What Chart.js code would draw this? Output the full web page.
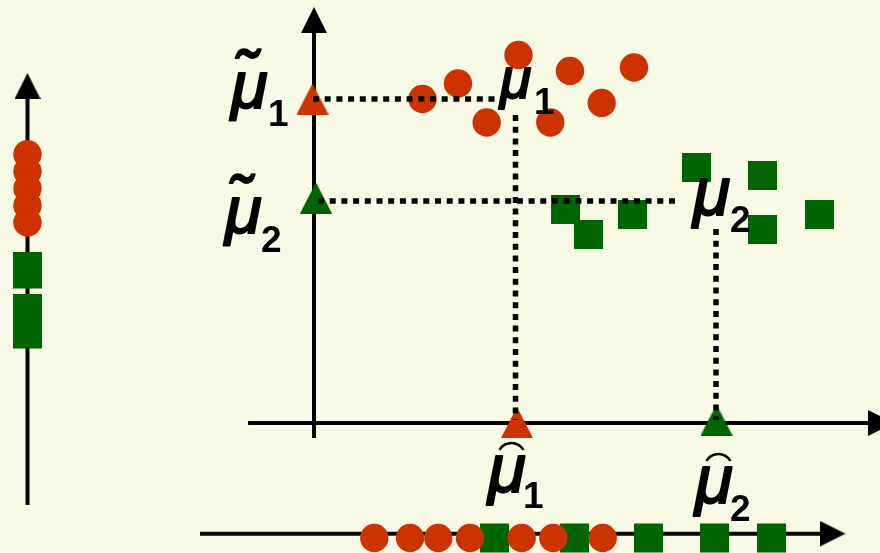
<!DOCTYPE html>
<html><head><meta charset="utf-8">
<script src="https://cdn.jsdelivr.net/npm/chart.js@4/dist/chart.umd.min.js"></script>
<style>
html,body{margin:0;padding:0;background:#F9FAE6;}
#wrap{width:880px;height:553px;position:relative;}
</style>
</head><body><div id="wrap"><canvas id="c"></canvas></div>
<script>
// ---- data (diagram units, origin at the main axes' crossing) ----
const class1X = [10.85, 14.4, 20.45, 17.27, 23.63, 25.6, 28.77, 32.0];
const class1Y = [32.4, 33.95, 36.8, 30.05, 30.05, 35.2, 32.0, 35.55];
const class2X = [38.25, 44.85, 25.15, 31.85, 27.45, 44.85, 50.55];
const class2Y = [25.55, 24.75, 21.35, 20.85, 18.85, 19.35, 20.85];
const leftClass1Y = [26.88, 25.17, 23.46, 21.76, 20.05];
const leftClass2Y = [15.65, 14.9, 11.45, 8.9];
const bottomClass1X = [6.03, 9.6, 12.43, 15.6, 20.77, 23.93, 28.87];
const bottomClass2X = [18.05, 26.05, 33.45, 40.05, 45.75];
const meanTildeY = [32.4, 22.5];   // μ̃1, μ̃2 on the vertical axis
const meanHatX = [20.3, 40.25];    // μ̂1, μ̂2 on the horizontal axis
const meanX = [20.15, 40.2];       // vertical guide positions
const meanY = [32.4, 22.2];        // horizontal guide positions
const guideEndX = [18.8, 36.3];
const guideTopY = [30.8, 19.4];
const leftAxisX = -28.65;
const bottomAxisY = -11.07;
const bottomPointsY = -11.5;

const RED = '#CC3300', GREEN = '#006400';

function tri(color, w, h) {
  const c = document.createElement('canvas'); c.width = w; c.height = h;
  const g = c.getContext('2d'); g.fillStyle = color;
  g.beginPath(); g.moveTo(w / 2, 0); g.lineTo(w, h); g.lineTo(0, h); g.closePath(); g.fill();
  return c;
}
const triRed = tri(RED, 32, 31), triGreen = tri(GREEN, 32, 31), arrowHead = tri('#000', 26, 26);

const pts = (xs, ys) => xs.map((x, i) => ({x, y: ys[i]}));
const constY = (xs, y) => xs.map(x => ({x, y}));
const constX = (ys, x) => ys.map(y => ({x, y}));

function line(data, opts) {
  return Object.assign({type: 'scatter', data, showLine: true, borderColor: '#000', borderWidth: 4,
    pointRadius: 0, fill: false, tension: 0, clip: false}, opts || {});
}
function marks(data, color, style, radius, opts) {
  return Object.assign({type: 'scatter', data, showLine: false, pointStyle: style, pointRadius: radius,
    pointBackgroundColor: color, pointBorderWidth: 0, clip: false}, opts || {});
}
const dotted = {borderWidth: 5.5, borderDash: [6, 5.7], borderCapStyle: 'butt', order: 0};

const datasets = [
  // axes
  line([{x: -6.6, y: 0}, {x: 55.6, y: 0}], {order: 5}),
  line([{x: 0, y: -1.5}, {x: 0, y: 39.3}], {order: 5}),
  line([{x: leftAxisX, y: -8.2}, {x: leftAxisX, y: 32.6}], {order: 5}),
  line([{x: -11.4, y: bottomAxisY}, {x: 50.8, y: bottomAxisY}], {order: 5}),
  marks([{x: 56.7, y: 0}], '#000', arrowHead, 13, {rotation: 90, order: 5}),
  marks([{x: 0, y: 40.3}], '#000', arrowHead, 13, {order: 5}),
  marks([{x: leftAxisX, y: 33.7}], '#000', arrowHead, 13, {order: 5}),
  marks([{x: 51.85, y: bottomAxisY}], '#000', arrowHead, 13, {rotation: 90, order: 5}),
  // class points
  marks(pts(class1X, class1Y), RED, 'circle', 14.2, {order: 3}),
  marks(pts(class2X, class2Y), GREEN, 'rect', 20.5, {order: 3}),
  marks(constX(leftClass1Y, leftAxisX), RED, 'circle', 14.2, {order: 3}),
  marks(constX(leftClass2Y, leftAxisX), GREEN, 'rect', 20.5, {order: 3}),
  marks(constY(bottomClass1X, bottomPointsY), RED, 'circle', 14.2, {order: 3}),
  marks(constY(bottomClass2X, bottomPointsY), GREEN, 'rect', 20.5, {order: 3}),
  // projected means
  marks([{x: -0.15, y: meanTildeY[0]}], RED, triRed, 16, {order: 2}),
  marks([{x: 0.2, y: meanTildeY[1]}], GREEN, triGreen, 16, {order: 2}),
  marks([{x: meanHatX[0], y: 0.05}], RED, triRed, 16, {order: 2}),
  marks([{x: meanHatX[1], y: 0.3}], GREEN, triGreen, 16, {order: 2}),
  // dotted guides
  line([{x: -0.1, y: meanY[0]}, {x: guideEndX[0], y: meanY[0]}], dotted),
  line([{x: 0.4, y: meanY[1]}, {x: guideEndX[1], y: meanY[1]}], dotted),
  line([{x: meanX[0], y: guideTopY[0]}, {x: meanX[0], y: 0.3}], dotted),
  line([{x: meanX[1], y: guideTopY[1]}, {x: meanX[1], y: 0.3}], dotted)
];

// label layout: main glyph + subscript (positions in diagram units)
const labels = [
  {t: '\u03BC\u0303', s: '1', x: -8.3, y: 31.5, sx: -4.6, sy: 29.75, size: 67},
  {t: '\u03BC\u0303', s: '2', x: -8.9, y: 19.0, sx: -5.3, sy: 17.1, size: 67},
  {t: '\u03BC', s: '1', x: 18.6, y: 32.5, sx: 22.0, sy: 30.9, size: 57},
  {t: '\u03BC', s: '2', x: 37.9, y: 20.8, sx: 41.6, sy: 19.1, size: 68},
  {t: '\u03BC', s: '1', x: 17.4, y: -6.9, sx: 20.9, sy: -8.5, size: 69, arc: true},
  {t: '\u03BC', s: '2', x: 38.1, y: -8.0, sx: 41.6, sy: -9.8, size: 69, arc: true}
];

const labelPlugin = {
  id: 'labels',
  afterDatasetsDraw(chart) {
    const {ctx, scales: {x, y}} = chart;
    ctx.save();
    ctx.fillStyle = '#000';
    ctx.strokeStyle = '#000';
    ctx.textBaseline = 'alphabetic';
    ctx.textAlign = 'left';
    ctx.lineJoin = 'round';
    labels.forEach(l => {
      const px = x.getPixelForValue(l.x), py = y.getPixelForValue(l.y);
      ctx.font = 'italic ' + l.size + 'px "Liberation Sans"';
      ctx.lineWidth = 2;
      ctx.fillText(l.t, px, py);
      ctx.strokeText(l.t, px, py);
      if (l.arc) {
        const R = 13.8, cx = px + 23.5, cy = py - 42 + (R - 7);
        ctx.beginPath();
        ctx.lineWidth = 2.6;
        ctx.arc(cx, cy, R, -Math.PI / 2 - 1.05, -Math.PI / 2 + 1.05);
        ctx.stroke();
      }
      ctx.font = 'bold 37px "Liberation Sans"';
      ctx.fillText(l.s, x.getPixelForValue(l.sx), y.getPixelForValue(l.sy));
    });
    ctx.restore();
  }
};

new Chart(document.getElementById('c'), {
  type: 'scatter',
  data: {datasets},
  options: {
    responsive: true, maintainAspectRatio: false, animation: false, events: [],
    layout: {padding: 0, autoPadding: false},
    plugins: {legend: {display: false}, tooltip: {enabled: false}},
    scales: {
      x: {type: 'linear', min: -31.4, max: 56.6, display: false},
      y: {type: 'linear', min: -13.0, max: 42.3, display: false}
    }
  },
  plugins: [labelPlugin]
});
</script>
</body></html>
